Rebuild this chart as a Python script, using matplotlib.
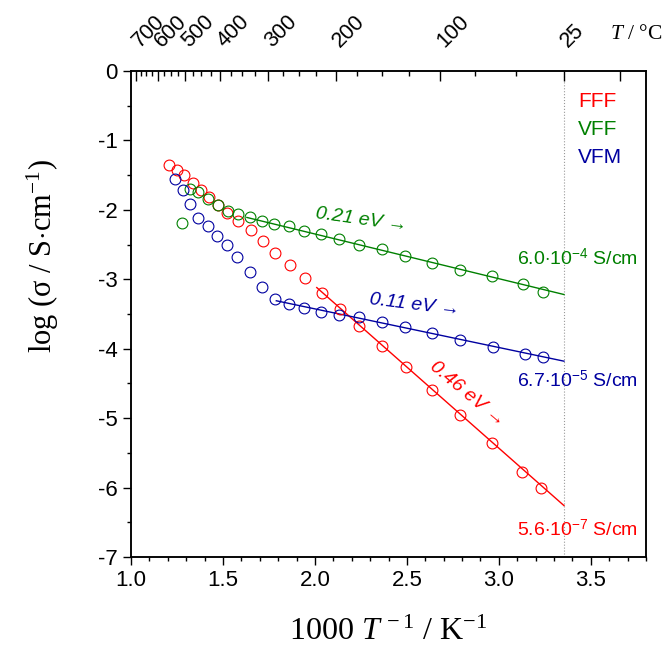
import numpy as np
import matplotlib
matplotlib.use("Agg")
import matplotlib.pyplot as plt

plt.rcParams["font.family"] = ["Liberation Sans", "DejaVu Sans"]
plt.rcParams["axes.unicode_minus"] = False
plt.rcParams["mathtext.fontset"] = "custom"
plt.rcParams["mathtext.rm"] = "Liberation Serif"
plt.rcParams["mathtext.it"] = "Liberation Serif:italic"
plt.rcParams["mathtext.sf"] = "Liberation Sans"

# data: x = 1000/T (1/K), y = log(sigma / S cm^-1)
fff_x = [1.208, 1.248, 1.290, 1.336, 1.380, 1.424, 1.473, 1.524, 1.581, 1.650, 1.715,
         1.783, 1.863, 1.946, 2.036, 2.134, 2.241, 2.362, 2.494, 2.637, 2.789, 2.960,
         3.124, 3.228]
fff_y = [-1.35, -1.42, -1.50, -1.62, -1.72, -1.82, -1.93, -2.04, -2.16, -2.29, -2.45,
         -2.62, -2.79, -2.98, -3.20, -3.43, -3.68, -3.96, -4.27, -4.60, -4.96, -5.36,
         -5.77, -6.01]

vff_x = [1.279, 1.321, 1.366, 1.417, 1.471, 1.530, 1.583, 1.647, 1.712, 1.778, 1.857,
         1.938, 2.031, 2.132, 2.237, 2.362, 2.490, 2.634, 2.786, 2.962, 3.132, 3.241]
vff_y = [-2.19, -1.70, -1.74, -1.85, -1.93, -2.02, -2.06, -2.11, -2.16, -2.20, -2.24,
         -2.30, -2.35, -2.42, -2.50, -2.56, -2.66, -2.76, -2.86, -2.96, -3.07, -3.18]

vfm_x = [1.241, 1.282, 1.321, 1.366, 1.417, 1.467, 1.520, 1.578, 1.648, 1.710, 1.781,
         1.860, 1.942, 2.033, 2.132, 2.241, 2.364, 2.492, 2.634, 2.788, 2.969, 3.141,
         3.241]
vfm_y = [-1.55, -1.71, -1.92, -2.12, -2.24, -2.37, -2.50, -2.68, -2.89, -3.11, -3.29,
         -3.35, -3.42, -3.47, -3.52, -3.55, -3.61, -3.69, -3.77, -3.87, -3.97, -4.08,
         -4.12]

# fitted Arrhenius lines (end points), ending at 25 C
fff_fit_x = [2.01, 3.354]
fff_fit_y = [-3.12, -6.26]
vff_fit_x = [1.63, 3.354]
vff_fit_y = [-2.11, -3.22]
vfm_fit_x = [1.79, 3.354]
vfm_fit_y = [-3.31, -4.18]

top_major_c = [700, 600, 500, 400, 300, 200, 100, 25, 0]
top_major_lbl = ["700", "600", "500", "400", "300", "200", "100", "25", ""]
top_minor_c = [c for c in range(0, 701, 25) if c not in top_major_c]

red = "#ff0000"
green = "#008000"
blue = "#0000a0"

fig = plt.figure(figsize=(6.68, 6.6), dpi=100)
ax = fig.add_axes([0.1961, 0.1561, 0.7710, 0.7364])

ax.axvline(1000 / 298.15, color="#999999", lw=0.8, ls=":", zorder=1)

for xs, ys, fx, fy, c in [(fff_x, fff_y, fff_fit_x, fff_fit_y, red),
                          (vff_x, vff_y, vff_fit_x, vff_fit_y, green),
                          (vfm_x, vfm_y, vfm_fit_x, vfm_fit_y, blue)]:
    ax.plot(fx, fy, color=c, lw=1.0, zorder=2)
    ax.plot(xs, ys, ls="none", marker="o", ms=7.8, mfc="none", mec=c, mew=0.8, zorder=3)

ax.set_xlim(1.0, 3.8)
ax.set_ylim(-7, 0)
ax.set_xticks(np.arange(1.0, 3.51, 0.5))
ax.set_xticks(np.arange(1.0, 3.81, 0.1), minor=True)
ax.set_xticklabels(["1.0", "1.5", "2.0", "2.5", "3.0", "3.5"])
ax.set_yticks(range(-7, 1))
ax.set_yticks(np.arange(-7, 0.01, 0.5), minor=True)
ax.tick_params(which="both", direction="out", width=1.0, labelsize=16, top=False, right=False)
ax.tick_params(which="major", length=6)
ax.tick_params(which="minor", length=3)
for s in ax.spines.values():
    s.set_linewidth(1.1)

ax.set_xlabel(r"1000 $T^{\,-1}$ / K$^{-1}$", fontsize=23, family="Liberation Serif")
ax.set_ylabel(r"log ($\mathrm{\sigma}$ / S$\cdot$cm$^{-1}$)", fontsize=22,
              family="Liberation Serif")
ax.xaxis.set_label_coords(0.5, -0.125)
ax.yaxis.set_label_coords(-0.136, 0.62)

# top axis in Celsius
ax2 = ax.twiny()
ax2.set_xlim(ax.get_xlim())
ax2.set_xticks([1000 / (c + 273.15) for c in top_major_c])
ax2.set_xticklabels(top_major_lbl)
ax2.set_xticks([1000 / (c + 273.15) for c in top_minor_c], minor=True)
ax2.tick_params(which="both", direction="in", width=1.0, labelsize=15.5, pad=19)
ax2.tick_params(which="major", length=7)
ax2.tick_params(which="minor", length=3.5)
for lbl in ax2.get_xticklabels():
    lbl.set_rotation(45)
    lbl.set_ha("left")
    lbl.set_va("center")
    lbl.set_rotation_mode("anchor")
for s in ax2.spines.values():
    s.set_linewidth(1.1)
ax.text(0.93, 1.074, r"$T$ / °C", transform=ax.transAxes, fontsize=15.5,
        family="Liberation Serif", ha="left", va="center")

# sample names
ax.text(3.43, -0.44, "FFF", color=red, fontsize=15, va="center")
ax.text(3.43, -0.85, "VFF", color=green, fontsize=15, va="center")
ax.text(3.43, -1.24, "VFM", color=blue, fontsize=15, va="center")

# activation energies
ax.text(2.25, -2.15, "0.21 eV →", color=green, fontsize=14, style="italic",
        rotation=-8, ha="center", va="center", rotation_mode="anchor")
ax.text(2.54, -3.37, "0.11 eV →", color=blue, fontsize=14, style="italic",
        rotation=-7, ha="center", va="center", rotation_mode="anchor")
ax.text(2.83, -4.65, "0.46 eV →", color=red, fontsize=14, style="italic",
        rotation=-40, ha="center", va="center", rotation_mode="anchor")

# conductivities at 25 C
ax.text(3.10, -2.7, r"6.0$\cdot$10$^{\mathsf{-4}}$ S/cm", color=green, fontsize=14, ha="left", va="center")
ax.text(3.10, -4.46, r"6.7$\cdot$10$^{\mathsf{-5}}$ S/cm", color=blue, fontsize=14, ha="left", va="center")
ax.text(3.10, -6.60, r"5.6$\cdot$10$^{\mathsf{-7}}$ S/cm", color=red, fontsize=14, ha="left", va="center")

fig.savefig("out.png", dpi=100)
